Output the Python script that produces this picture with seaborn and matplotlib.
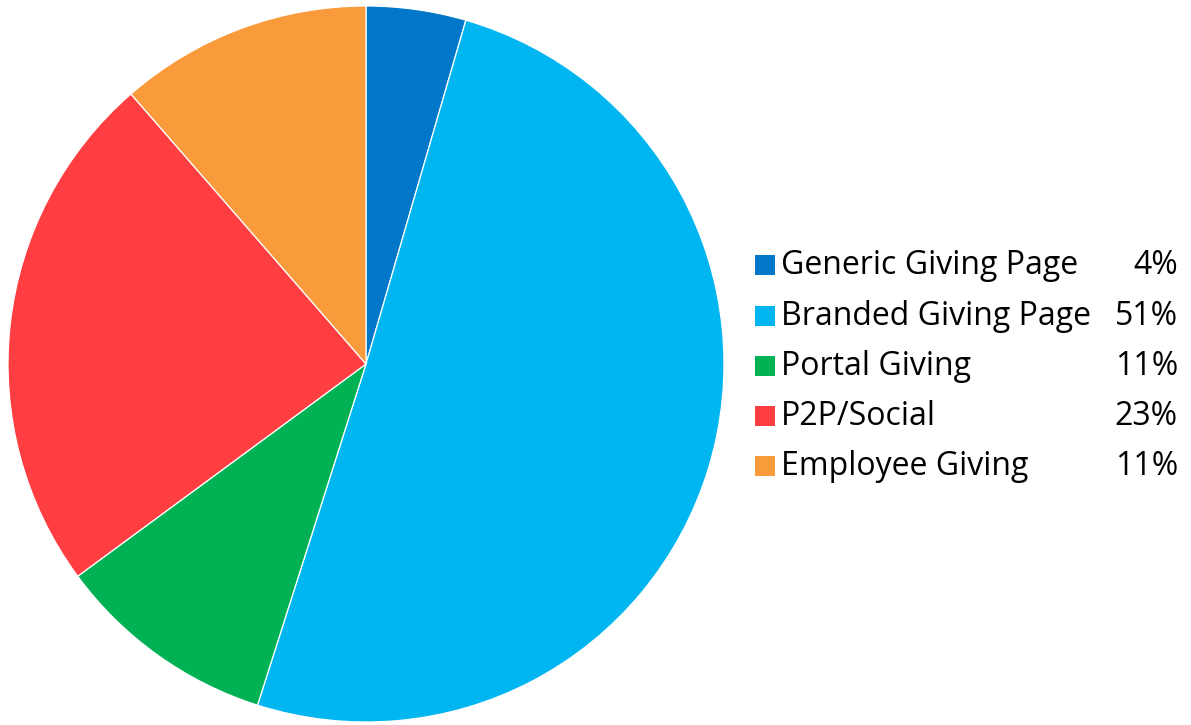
import matplotlib
matplotlib.use("Agg")
import matplotlib.pyplot as plt
import seaborn as sns

categories = ["Generic Giving Page", "Branded Giving Page", "Portal Giving", "P2P/Social", "Employee Giving"]
shares = [4.5, 50.4, 10.0, 23.7, 11.4]
pct_labels = ["4%", "51%", "11%", "23%", "11%"]
colors = ["#0077C8", "#00B6F0", "#00B254", "#FF3E41", "#F99B3B"]

sns.set_theme(style="white")
plt.rcParams['font.family'] = ['Open Sans', 'DejaVu Sans']

W, H = 1191, 725
fig = plt.figure(figsize=(W / 100, H / 100), dpi=100)

cx, cy, r = 366, 364, 358
ax = fig.add_axes([(cx - r) / W, (H - cy - r) / H, 2 * r / W, 2 * r / H])
ax.pie(shares, colors=colors, startangle=90, counterclock=False,
       wedgeprops=dict(edgecolor="white", linewidth=0.9), radius=1)
ax.set_xlim(-1, 1)
ax.set_ylim(-1, 1)
ax.set_aspect("equal")
ax.axis("off")

# legend axes in pixel coordinates
lax = fig.add_axes([0, 0, 1, 1])
lax.set_xlim(0, W)
lax.set_ylim(H, 0)
lax.axis("off")
rows_y = [265, 316, 366, 416, 466]
for i, (cat, pct, col) in enumerate(zip(categories, pct_labels, colors)):
    y = rows_y[i]
    lax.scatter([765], [y], marker="s", s=190, color=col, linewidths=0)
    lax.text(781, y, cat, fontsize=23, va="center", ha="left", color="black")
    lax.text(1178, y, pct, fontsize=23, va="center", ha="right", color="black")

fig.savefig("out.png", dpi=100, facecolor="white")
